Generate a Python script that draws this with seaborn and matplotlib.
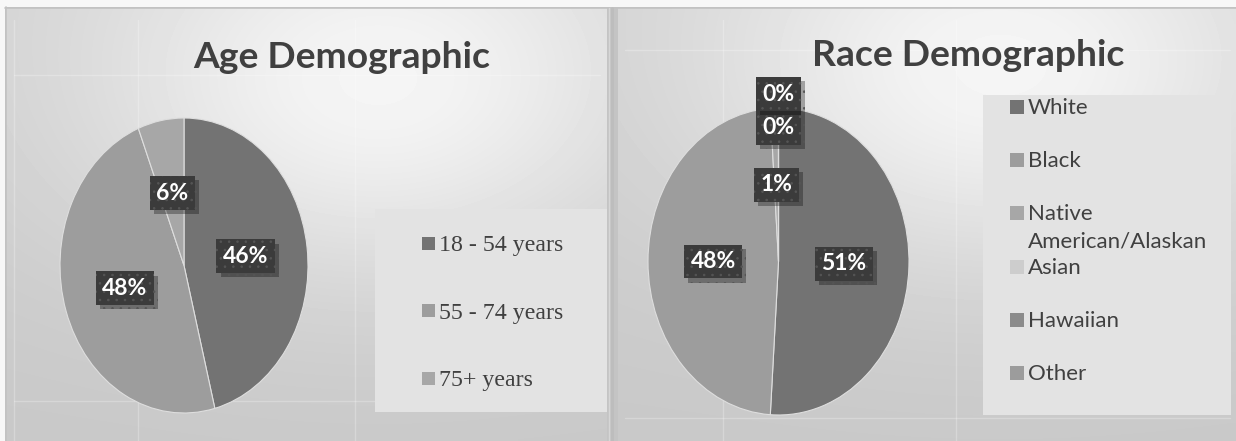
import numpy as np
import matplotlib
matplotlib.use("Agg")
import matplotlib.pyplot as plt
import matplotlib.patheffects as pe
from matplotlib.patches import Rectangle
import seaborn as sns

# ---- data -------------------------------------------------------------
age_groups = ["18 - 54 years", "55 - 74 years", "75+ years"]
age_share = [46, 48, 6]

race_groups = ["White", "Black", "Native\nAmerican/Alaskan", "Asian", "Hawaiian", "Other"]
race_share = [51, 48, 1, 0, 0, 0]

# ---- styling ----------------------------------------------------------
sns.set_theme(style="white")
plt.rcParams["font.family"] = ["Lato", "DejaVu Sans"]
plt.rcParams["hatch.linewidth"] = 0.6

age_colors = sns.color_palette(["#737373", "#9d9d9d", "#a7a7a7"])
race_colors = sns.color_palette(["#737373", "#9d9d9d", "#a7a7a7", "#cdcdcd", "#8b8b8b", "#9c9c9c"])
race_label_dist = [0.5, 0.5, 0.5, 0.87, 1.09, None]
age_label_dist = [0.5, 0.5, 0.5]

W, H = 1236, 441
fig = plt.figure(figsize=(W / 100, H / 100), dpi=100)
fig.patch.set_facecolor("#f7f7f7")


def rect(x0, y0, x1, y1):
    """pixel box (top-left origin) -> figure fraction rect"""
    return [x0 / W, 1 - y1 / H, (x1 - x0) / W, (y1 - y0) / H]


# background panels with soft gradients
bg = fig.add_axes([0, 0, 1, 1], zorder=0)
bg.set_xlim(0, W)
bg.set_ylim(H, 0)
bg.axis("off")


def panel(x0, x1, y0, y1, cx, cy):
    nx, ny = 200, 120
    xs = np.linspace(0, 1, nx)
    ys = np.linspace(0, 1, ny)
    X, Y = np.meshgrid(xs, ys)
    glow = np.exp(-(((X - cx) ** 2) / 0.22 + ((Y - cy) ** 2) / 0.20))
    v = 0.785 + 0.03 * (1 - Y) + 0.15 * glow
    v = np.clip(v, 0, 0.97)
    bg.imshow(v, cmap="gray", vmin=0, vmax=1, extent=[x0, x1, y1, y0],
              aspect="auto", interpolation="bilinear", zorder=0)


bg.add_patch(Rectangle((5, 7), W - 5, H - 7, facecolor="#c4c4c4", edgecolor="none", zorder=0))
panel(6, 607, 8, H, 0.62, 0.18)
panel(618, W, 8, H, 0.62, 0.15)
bg.plot([5, W], [7.5, 7.5], color="#c2c2c2", lw=1.2, zorder=1)
bg.plot([5.5, 5.5], [7, H], color="#c2c2c2", lw=1.2, zorder=1)
bg.plot([612, 612], [8, H], color="#bdbdbd", lw=2.0, zorder=1)
bg.plot([609, 609], [8, H], color="#d6d6d6", lw=1.0, zorder=1)

# faint reflections in the panel surface
for x in (14, 138, 355, 723, 956):
    bg.plot([x, x], [20, H], color="white", alpha=0.25, lw=1, zorder=1)
for y in (75, 401):
    bg.plot([14, 600], [y, y], color="white", alpha=0.25, lw=1, zorder=1)
for y in (50, 418):
    bg.plot([625, 1230], [y, y], color="white", alpha=0.25, lw=1, zorder=1)

# legend panels
bg.add_patch(Rectangle((375, 209), 232, 203, facecolor="#e3e3e3", edgecolor="none", zorder=2))
bg.add_patch(Rectangle((983, 95), 248, 320, facecolor="#e3e3e3", edgecolor="none", zorder=2))


def draw_pie(box, values, colors, dists):
    ax = fig.add_axes(rect(*box), zorder=3)
    wedges, _ = ax.pie(values, colors=colors, startangle=90, counterclock=False,
                       radius=1.0, wedgeprops=dict(edgecolor="#dedede", linewidth=0.8))
    ax.set_aspect("auto")
    ax.set_xlim(-1, 1)
    ax.set_ylim(-1, 1)
    ax.axis("off")
    total = float(sum(values))
    for w, v, d in zip(wedges, values, dists):
        if d is None:
            continue
        theta = np.deg2rad((w.theta1 + w.theta2) / 2)
        t = ax.text(d * np.cos(theta), d * np.sin(theta), f"{100 * v / total:.0f}%",
                    ha="center", va="center", color="white", fontsize=16.5,
                    fontweight="bold", zorder=5,
                    bbox=dict(boxstyle="square,pad=0.28", facecolor="#3b3b3b",
                              edgecolor="#555555", linewidth=0, hatch=".."))
        t.get_bbox_patch().set_path_effects(
            [pe.SimplePatchShadow(offset=(3, -3), shadow_rgbFace="black", alpha=0.3),
             pe.Normal()])
    return ax


draw_pie((60, 118, 308, 413), age_share, age_colors, age_label_dist)
draw_pie((648, 108, 909, 415), race_share, race_colors, race_label_dist)

# overlay for titles and legends
ov = fig.add_axes([0, 0, 1, 1], zorder=6)
ov.set_xlim(0, W)
ov.set_ylim(H, 0)
ov.axis("off")

ov.text(490, 58, "Age Demographic", ha="right", va="center", fontsize=26.8,
        fontweight="bold", color="#404040")
ov.text(1124, 55, "Race Demographic", ha="right", va="center", fontsize=26.8,
        fontweight="bold", color="#404040")

# age legend (serif entries)
for i, (lab, col) in enumerate(zip(age_groups, age_colors)):
    y = 243 + i * 67.5
    ov.add_patch(Rectangle((422, y - 6.5), 13, 13, facecolor=col, edgecolor="none"))
    ov.text(439, y, lab, ha="left", va="center_baseline", fontsize=17.2,
            family=["Liberation Serif", "DejaVu Serif"], color="#404040")

# race legend
for i, (lab, col) in enumerate(zip(race_groups, race_colors)):
    y = 107 + i * 53.2
    ov.add_patch(Rectangle((1010, y - 7), 14, 14, facecolor=col, edgecolor="none"))
    ov.text(1028, y - 9, lab, ha="left", va="top", fontsize=16,
            color="#404040", linespacing=1.45)

fig.savefig("out.png", dpi=100, facecolor=fig.get_facecolor())
